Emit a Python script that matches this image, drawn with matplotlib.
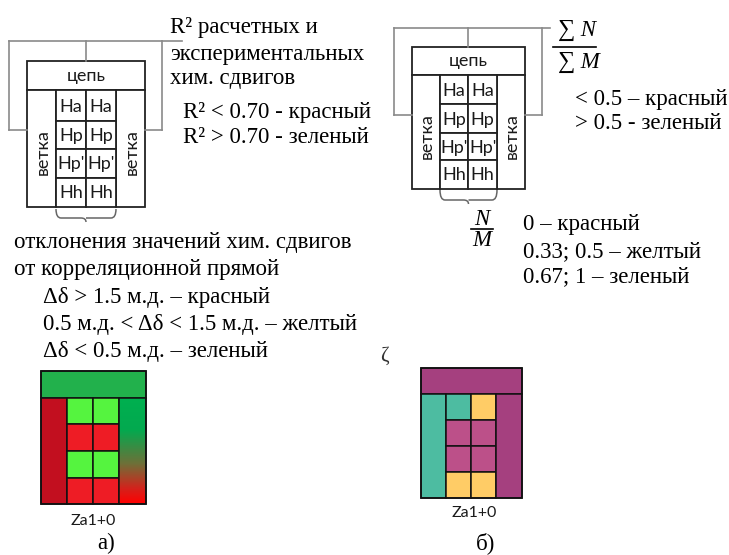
import numpy as np
import matplotlib.pyplot as plt
from matplotlib.patches import Rectangle, PathPatch
from matplotlib.path import Path
from matplotlib.colors import LinearSegmentedColormap

SERIF = "Liberation Serif"
SANS = "Lato"

# --- content -------------------------------------------------------------
cell_labels = [["Ha", "Ha"], ["Hp", "Hp"], ["Hp'", "Hp'"], ["Hh", "Hh"]]
header_label = "цепь"
side_label = "ветка"
tile_caption = "Za1+0"

text_a_top = ["R² расчетных и", "экспериментальных", "хим. сдвигов"]
text_a_rules = ["R² < 0.70 - красный", "R² > 0.70 - зеленый"]
text_a_bottom = ["отклонения значений хим. сдвигов", "от корреляционной прямой"]
text_a_dev = ["Δδ > 1.5 м.д. – красный",
              "0.5 м.д. < Δδ < 1.5 м.д. – желтый",
              "Δδ < 0.5 м.д. – зеленый"]
text_b_rules = ["< 0.5 – красный", "> 0.5 - зеленый"]
text_b_nm = ["0 – красный", "0.33; 0.5 – желтый", "0.67; 1 – зеленый"]

# tile colours (panel a, panel b)
a_header = "#22B14C"
a_left = "#C20F1F"
a_cells = [["#55F43F", "#55F43F"], ["#EE1C25", "#EE1C25"],
           ["#55F43F", "#55F43F"], ["#EE1C25", "#EE1C25"]]
a_right_grad = ["#00B050", "#03A94F", "#6E7038", "#D5211B", "#FF0000"]
a_right_stops = [0.0, 0.3, 0.62, 0.86, 1.0]

b_header = "#A5407F"
b_left = "#4DBCA1"
b_cells = [["#4DBCA1", "#FFCC66"], ["#BC5089", "#BC5089"],
           ["#BC5089", "#BC5089"], ["#FFCC66", "#FFCC66"]]
b_right = "#A5407F"

fig = plt.figure(figsize=(7.29, 5.55), dpi=100)
ax = fig.add_axes([0, 0, 1, 1])
ax.set_xlim(0, 729)
ax.set_ylim(555, 0)
ax.axis("off")

GRAY = "#8a8a8a"
TS = 16.5   # serif text size
SS = 13     # sans labels inside schemes


def brace(x0, x1, y0, depth):
    xm = (x0 + x1) / 2
    yb = y0 + depth
    verts = [(x0, y0), (x0, yb), (x0 + 5, yb),
             (xm - 5, yb), (xm, yb), (xm, yb + 4),
             (xm, yb), (xm + 5, yb),
             (x1 - 5, yb), (x1, yb), (x1, y0)]
    codes = [Path.MOVETO, Path.CURVE3, Path.CURVE3,
             Path.LINETO, Path.CURVE3, Path.CURVE3,
             Path.MOVETO, Path.LINETO,
             Path.LINETO, Path.CURVE3, Path.CURVE3]
    ax.add_patch(PathPatch(Path(verts, codes), fc="none", ec="#666666", lw=1.1))


def scheme(x0, x1, y0, y1, hy, lc, rc, rows, top_y, out_l, out_r, hook_y, line_end):
    # grey connector above the scheme
    xm = (x0 + x1) / 2
    ax.plot([out_l, out_l], [top_y, hook_y], color=GRAY, lw=1.2)
    ax.plot([out_l, x0], [hook_y, hook_y], color=GRAY, lw=1.2)
    ax.plot([out_r, out_r], [top_y, hook_y], color=GRAY, lw=1.2)
    ax.plot([x1, out_r], [hook_y, hook_y], color=GRAY, lw=1.2)
    ax.plot([out_l, line_end], [top_y, top_y], color=GRAY, lw=1.2)
    ax.plot([xm, xm], [top_y, y0], color=GRAY, lw=1.2)

    k = dict(fc="white", ec="#222222", lw=1.3)
    ax.add_patch(Rectangle((x0, y0), x1 - x0, hy - y0, **k))
    ax.add_patch(Rectangle((x0, hy), lc - x0, y1 - hy, **k))
    ax.add_patch(Rectangle((rc, hy), x1 - rc, y1 - hy, **k))
    cm = (lc + rc) / 2
    for i in range(4):
        for j, (cx0, cx1) in enumerate([(lc, cm), (cm, rc)]):
            ax.add_patch(Rectangle((cx0, rows[i]), cx1 - cx0, rows[i + 1] - rows[i], **k))
            ax.text((cx0 + cx1) / 2, (rows[i] + rows[i + 1]) / 2 + 1, cell_labels[i][j],
                    ha="center", va="center", fontsize=SS, family=SANS, color="#1a1a1a")
    ax.text(xm, (y0 + hy) / 2, header_label, ha="center", va="center",
            fontsize=SS, family=SANS, color="#1a1a1a")
    for cx in [(x0 + lc) / 2, (rc + x1) / 2]:
        ax.text(cx + 1, (hy + y1) / 2 + 4, side_label, ha="center", va="center", rotation=90,
                fontsize=SS, family=SANS, color="#1a1a1a")


def tiles(x0, x1, y0, y1, hy, lc, rc, rows, header, left, cells, right_color=None):
    k = dict(ec="#111111", lw=1.1)
    ax.add_patch(Rectangle((x0, y0), x1 - x0, hy - y0, fc=header, **k))
    ax.add_patch(Rectangle((x0, hy), lc - x0, y1 - hy, fc=left, **k))
    cm = (lc + rc) / 2
    for i in range(4):
        for j, (cx0, cx1) in enumerate([(lc, cm), (cm, rc)]):
            ax.add_patch(Rectangle((cx0, rows[i]), cx1 - cx0, rows[i + 1] - rows[i],
                                   fc=cells[i][j], **k))
    if right_color is not None:
        ax.add_patch(Rectangle((rc, hy), x1 - rc, y1 - hy, fc=right_color, **k))
    else:
        cmap = LinearSegmentedColormap.from_list("g", list(zip(a_right_stops, a_right_grad)))
        grad = np.linspace(0, 1, 200).reshape(-1, 1)
        ax.imshow(grad, cmap=cmap, extent=(rc, x1, y1, hy), origin="upper",
                  aspect="auto", zorder=1)
        ax.add_patch(Rectangle((rc, hy), x1 - rc, y1 - hy, fc="none", ec="#111111",
                               lw=1.1, zorder=2))
    ax.add_patch(Rectangle((x0, y0), x1 - x0, y1 - y0, fc="none", ec="#111111", lw=1.2,
                           zorder=3))


# ---- panel a scheme
scheme(27, 145, 61, 207, 90, 56, 116, [90, 121, 149, 178, 207],
       top_y=41, out_l=9, out_r=162, hook_y=130, line_end=182)
brace(56, 116, 209, 9)

# ---- panel b scheme
scheme(412, 525, 47, 189, 75, 440, 497, [75, 104, 133, 160, 189],
       top_y=28, out_l=394, out_r=542, hook_y=115, line_end=550)
brace(440, 497, 190, 10)

for t, y in zip(text_a_top, [33, 60, 84]):
    ax.text(170, y, t, fontsize=TS, family=SERIF, va="baseline", ha="left")
for t, y in zip(text_a_rules, [118, 143]):
    ax.text(183, y, t, fontsize=TS, family=SERIF, va="baseline", ha="left")
for t, y in zip(text_a_bottom, [248, 275]):
    ax.text(14, y, t, fontsize=TS, family=SERIF, va="baseline", ha="left")
for t, y in zip(text_a_dev, [303, 330, 357]):
    ax.text(43, y, t, fontsize=TS, family=SERIF, va="baseline", ha="left")
for t, y in zip(text_b_rules, [105, 129]):
    ax.text(575, y, t, fontsize=TS, family=SERIF, va="baseline", ha="left")
for t, y in zip(text_b_nm, [230, 257, 282]):
    ax.text(523, y, t, fontsize=TS, family=SERIF, va="baseline", ha="left")

# fractions
ax.text(575, 36, "∑", fontsize=TS + 1, family=SERIF, va="baseline", ha="right")
ax.text(575, 36, " N", fontsize=TS, family=SERIF, style="italic", va="baseline", ha="left")
ax.plot([553, 596], [47, 47], color="black", lw=1.2)
ax.text(575, 68, "∑", fontsize=TS + 1, family=SERIF, va="baseline", ha="right")
ax.text(575, 68, " M", fontsize=TS, family=SERIF, style="italic", va="baseline", ha="left")

ax.text(482, 225, "N", fontsize=TS, family=SERIF, style="italic", va="baseline", ha="center")
ax.plot([471, 493], [229, 229], color="black", lw=1.2)
ax.text(482, 246, "M", fontsize=TS, family=SERIF, style="italic", va="baseline", ha="center")

ax.text(384, 356, "ζ", fontsize=15, family=SERIF, va="center", ha="center", color="#333333")

# ---- coloured tiles
tiles(41, 146, 371, 504, 398, 67, 119, [398, 424, 451, 478, 504],
      a_header, a_left, a_cells)
tiles(421, 522, 368, 498, 394, 446, 496, [394, 420, 446, 472, 498],
      b_header, b_left, b_cells, right_color=b_right)

ax.text(93, 521, tile_caption, fontsize=11.5, family=SANS, ha="center", va="center",
        color="#1a1a1a")
ax.text(474, 513, tile_caption, fontsize=11.5, family=SANS, ha="center", va="center",
        color="#1a1a1a")
ax.text(106, 543, "а)", fontsize=TS, family=SERIF, ha="center", va="center")
ax.text(486, 543, "б)", fontsize=TS, family=SERIF, ha="center", va="center")

ax.set_xlim(0, 729)
ax.set_ylim(555, 0)
fig.savefig("out.png", dpi=100)
